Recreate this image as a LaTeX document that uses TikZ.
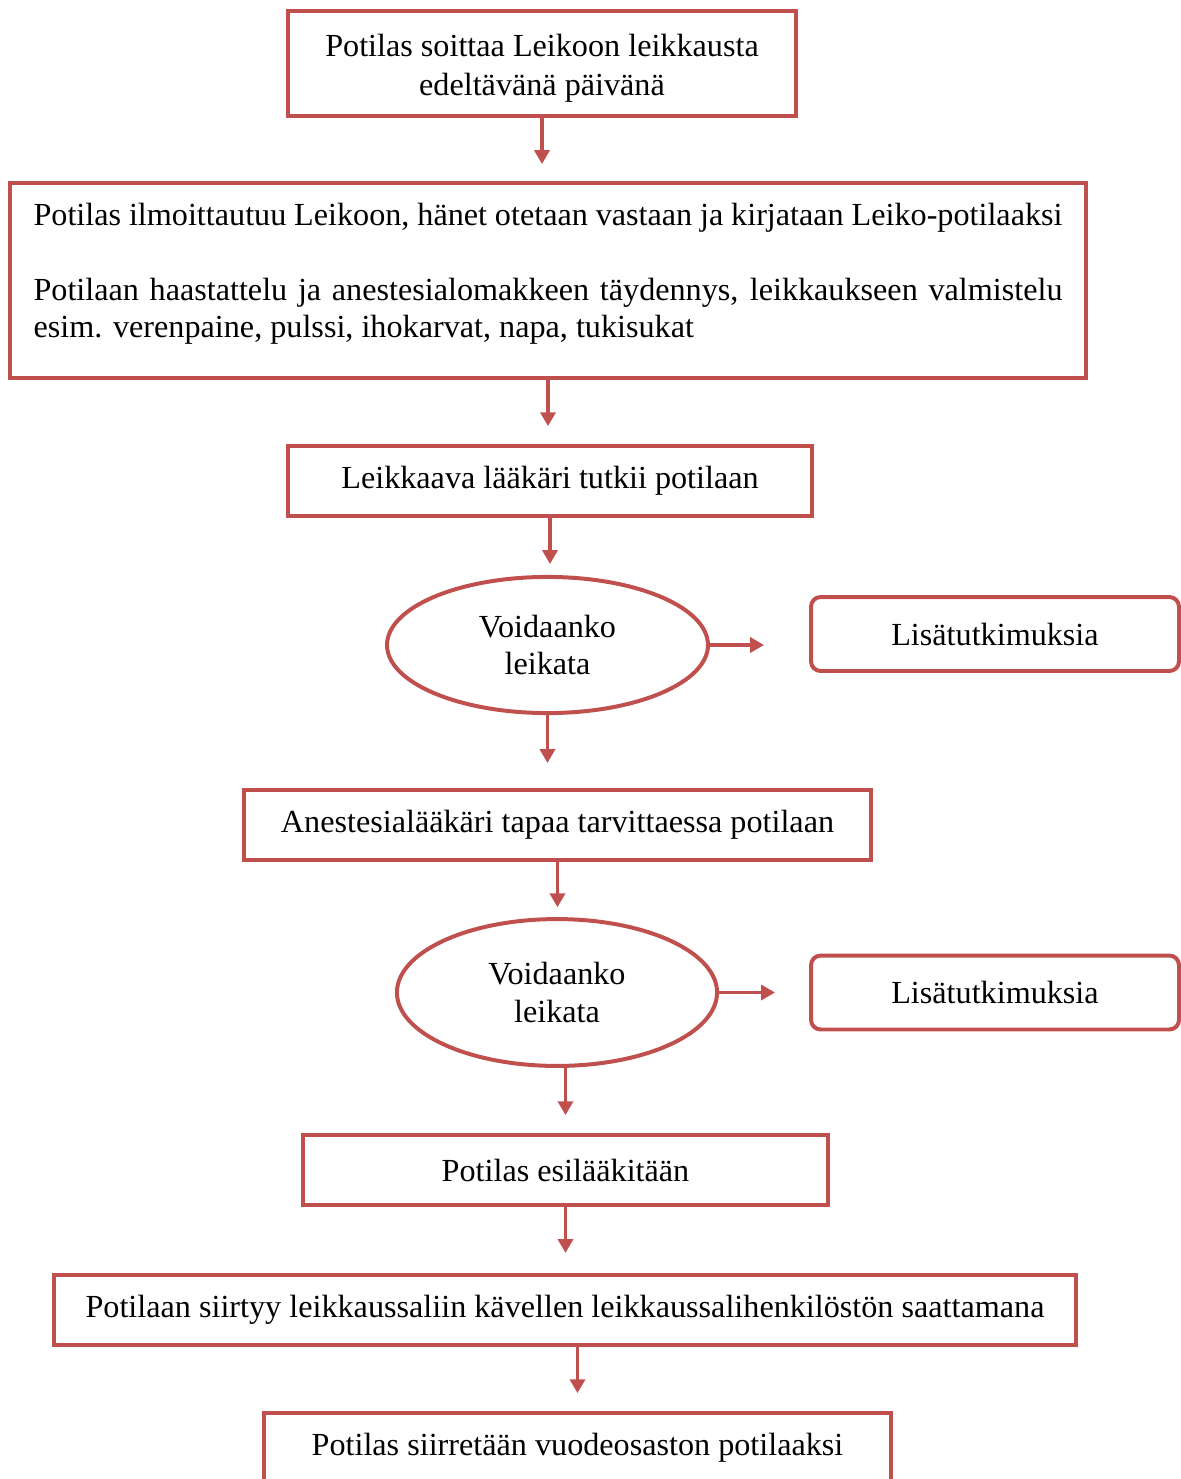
\documentclass[tikz,border=0pt]{standalone}
\usepackage{fontspec}
\setmainfont{Liberation Serif}
\usepackage{tikz}
\usetikzlibrary{arrows.meta, positioning, shapes.geometric}
\definecolor{accRed}{HTML}{C0504D}
\newcommand{\pxu}{0.3636pt}

\begin{document}
\begin{tikzpicture}[x=\pxu, y=-\pxu, font=\fontsize{11.7}{13.6}\selectfont,
  flowbox/.style={draw=accRed, line width=1.45pt, rectangle, align=center, inner sep=0pt, minimum height=25.5pt},
  choice/.style={draw=accRed, line width=1.45pt, ellipse, align=center, inner sep=0pt},
  sidebox/.style={draw=accRed, line width=1.45pt, rounded corners=3.5pt, align=center, inner sep=0pt,
                  minimum width=133.8pt, minimum height=26.9pt},
  flowarrow/.style={accRed, line width=1.1pt, -{Triangle[length=5pt,width=5.5pt]}}]
  \useasboundingbox (0,0) rectangle (1181,1479);
  % main column
  \node[flowbox, minimum width=184.7pt, minimum height=38.2pt] (call) at (542,63.5)
    {\rule{0pt}{11.6pt}Potilas soittaa Leikoon leikkausta\\[0.5pt]edeltävänä päivänä};
  \node[flowbox, minimum width=391.2pt, minimum height=70.9pt, text width=374.1pt, align=justify] (arrive) at (548,280.5)
    {\hyphenpenalty=10000 \exhyphenpenalty=10000
     Potilas ilmoittautuu Leikoon, hänet otetaan vastaan ja kirjataan Leiko-potilaaksi\par
     \vspace{13.6pt}Potilaan haastattelu ja anestesialomakkeen täydennys, leikkaukseen valmistelu\linebreak
     esim. verenpaine, pulssi, ihokarvat, napa, tukisukat\par\nointerlineskip\vspace{5pt}\hbox{}};
  \node[flowbox, minimum width=190.5pt] (exam) at (550,481) {Leikkaava lääkäri tutkii potilaan};
  \node[choice, minimum width=116.7pt, minimum height=49.5pt] (ok1) at (547.5,645) {Voidaanko\\leikata};
  \node[flowbox, minimum width=228pt] (anest) at (557.5,825) {Anestesialääkäri tapaa tarvittaessa potilaan};
  \node[choice, minimum width=116.4pt, minimum height=53.4pt] (ok2) at (557,992.5) {Voidaanko\\leikata};
  \node[flowbox, minimum width=190.9pt] (premed) at (565.5,1170) {Potilas esilääkitään};
  \node[flowbox, minimum width=371.6pt] (walk) at (565,1310)
    {Potilaan siirtyy leikkaussaliin kävellen leikkaussalihenkilöstön saattamana};
  \node[flowbox, minimum width=228pt] (ward) at (577.5,1448) {Potilas siirretään vuodeosaston potilaaksi};
  % side boxes
  \node[sidebox] (more1) at (995,634) {Lisätutkimuksia};
  \node[sidebox] (more2) at (995,992.5) {Lisätutkimuksia};
  % arrows
  \draw[flowarrow, shorten >=6.2pt] (call.south) -- (call.south |- arrive.north);
  \draw[flowarrow, shorten >=6.5pt] (arrive.south) -- (arrive.south |- exam.north);
  \draw[flowarrow, shorten >=4pt] (exam.south) -- (exam.south |- ok1.north);
  \draw[flowarrow, shorten >=9.1pt] (ok1.south) -- (ok1.south |- anest.north);
  \draw[flowarrow, shorten >=16.4pt] (ok1.east) -- (ok1.east -| more1.west);
  \draw[flowarrow, shorten >=3.6pt] (anest.south) -- (anest.south |- ok2.north);
  \draw[flowarrow, shorten >=12.4pt] (ok2.east) -- (ok2.east -| more2.west);
  \draw[flowarrow, shorten >=6.5pt] (ok2.south -| premed.north) -- (premed.north);
  \draw[flowarrow, shorten >=7.3pt] (premed.south) -- (premed.south |- walk.north);
  \draw[flowarrow, shorten >=6.5pt] (walk.south -| ward.north) -- (ward.north);
\end{tikzpicture}
\end{document}
